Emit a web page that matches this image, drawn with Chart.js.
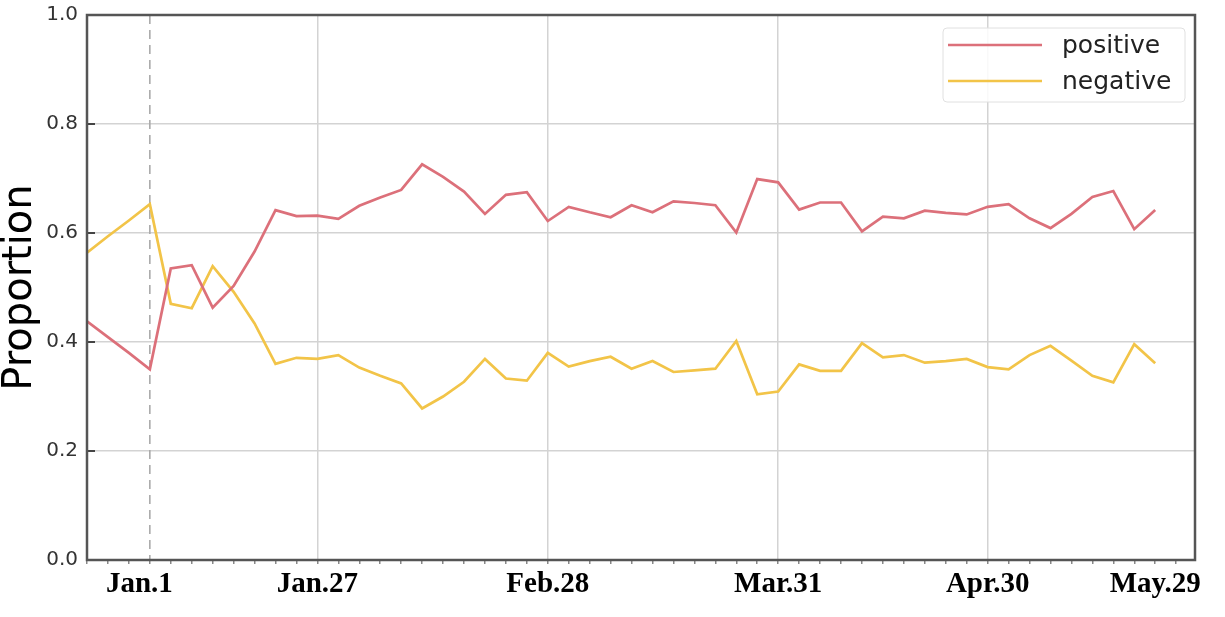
<!DOCTYPE html>
<html>
<head>
<meta charset="utf-8">
<script src="https://cdn.jsdelivr.net/npm/chart.js@4/dist/chart.umd.min.js"></script>
<style>
  html, body { margin: 0; padding: 0; background: #fff; }
  #wrap { width: 1225px; height: 617px; }
</style>
</head>
<body>
<div id="wrap"><canvas id="c" width="1225" height="617"></canvas></div>
<script>
// ---- data ----
const seriesNames = ['positive', 'negative'];
const positive = [0.438, 0.409, 0.380, 0.350, 0.535, 0.541, 0.463, 0.503, 0.566, 0.642,
  0.631, 0.632, 0.626, 0.650, 0.665, 0.679, 0.726, 0.703, 0.676, 0.635,
  0.670, 0.675, 0.622, 0.648, 0.638, 0.629, 0.651, 0.638, 0.658, 0.655,
  0.651, 0.601, 0.699, 0.693, 0.643, 0.656, 0.656, 0.603, 0.630, 0.627,
  0.641, 0.637, 0.634, 0.648, 0.653, 0.627, 0.609, 0.635, 0.666, 0.677,
  0.607, 0.642];
const negative = [0.564, 0.594, 0.623, 0.653, 0.470, 0.462, 0.539, 0.492, 0.434, 0.360,
  0.371, 0.369, 0.376, 0.353, 0.338, 0.324, 0.278, 0.300, 0.327, 0.369,
  0.333, 0.329, 0.380, 0.355, 0.365, 0.373, 0.351, 0.365, 0.345, 0.348,
  0.351, 0.402, 0.304, 0.309, 0.359, 0.347, 0.347, 0.398, 0.372, 0.376,
  0.362, 0.365, 0.369, 0.354, 0.350, 0.376, 0.393, 0.366, 0.338, 0.326,
  0.396, 0.361];
const tickLabels = ['Jan.1', 'Jan.27', 'Feb.28', 'Mar.31', 'Apr.30', 'May.29'];
const tickLabelPos = [2.5, 11, 22, 33, 43, 51];     // where each label sits (sample index)
const gridAt = [11, 22, 33, 43];                     // solid vertical grid lines
const dashedAt = 3;                                  // Jan.1 marker
const yTicks = [0, 0.2, 0.4, 0.6, 0.8, 1.0];

const colors = { positive: 'rgb(220,112,122)', negative: 'rgb(242,196,72)' };

const toXY = arr => arr.map((v, i) => ({ x: i, y: v }));

const xTickValues = [];
for (let i = 0; i <= 52; i++) xTickValues.push(i);
tickLabelPos.forEach(p => { if (!xTickValues.includes(p)) xTickValues.push(p); });
xTickValues.sort((a, b) => a - b);

const deco = {
  id: 'deco',
  beforeDatasetsDraw(chart) {
    const { ctx, chartArea: a, scales: { x } } = chart;
    const px = x.getPixelForValue(dashedAt);
    ctx.save();
    ctx.strokeStyle = '#aaaaaa';
    ctx.lineWidth = 1.6;
    ctx.setLineDash([9, 6]);
    ctx.beginPath();
    ctx.moveTo(px, a.top);
    ctx.lineTo(px, a.bottom);
    ctx.stroke();
    ctx.restore();
  },
  afterDatasetsDraw(chart) {
    const { ctx, chartArea: a, scales: { y } } = chart;
    ctx.save();
    ctx.strokeStyle = '#444';
    ctx.lineWidth = 2;
    yTicks.forEach(v => {
      const py = y.getPixelForValue(v);
      ctx.beginPath();
      ctx.moveTo(a.left, py);
      ctx.lineTo(a.left + 8, py);
      ctx.stroke();
    });
    ctx.strokeStyle = '#555';
    ctx.lineWidth = 2.5;
    ctx.strokeRect(a.left, a.top, a.right - a.left, a.bottom - a.top);
    ctx.restore();
  },
  afterDraw(chart) {
    const { ctx, chartArea: a } = chart;
    const bx = a.right - 252, by = a.top + 13, bw = 242, bh = 74;
    ctx.save();
    ctx.fillStyle = 'rgba(255,255,255,0.85)';
    ctx.strokeStyle = '#e0e0e0';
    ctx.lineWidth = 1;
    ctx.beginPath();
    if (ctx.roundRect) ctx.roundRect(bx, by, bw, bh, 4); else ctx.rect(bx, by, bw, bh);
    ctx.fill();
    ctx.stroke();
    ctx.font = '25px "DejaVu Sans"';
    ctx.textBaseline = 'middle';
    ctx.textAlign = 'left';
    seriesNames.forEach((name, i) => {
      const ly = by + 17 + i * 36;
      ctx.strokeStyle = colors[name];
      ctx.lineWidth = 2.5;
      ctx.beginPath();
      ctx.moveTo(bx + 5, ly);
      ctx.lineTo(bx + 99, ly);
      ctx.stroke();
      ctx.fillStyle = '#222';
      ctx.fillText(name, bx + 119, ly + 1);
    });
    ctx.restore();
  }
};

Chart.defaults.font.family = '"DejaVu Sans", sans-serif';

new Chart(document.getElementById('c'), {
  type: 'line',
  data: {
    datasets: [
      { label: seriesNames[0], data: toXY(positive), borderColor: colors.positive,
        borderWidth: 2.7, pointRadius: 0, tension: 0, fill: false },
      { label: seriesNames[1], data: toXY(negative), borderColor: colors.negative,
        borderWidth: 2.7, pointRadius: 0, tension: 0, fill: false }
    ]
  },
  options: {
    responsive: false,
    animation: false,
    layout: { padding: { top: 15, right: 30, left: 0, bottom: 0 } },
    plugins: { legend: { display: false }, tooltip: { enabled: false } },
    scales: {
      x: {
        type: 'linear',
        min: 0,
        max: 52.9,
        afterBuildTicks(scale) { scale.ticks = xTickValues.map(v => ({ value: v })); },
        afterFit(scale) { scale.height = 57; scale.paddingLeft = 0; scale.paddingRight = 0; },
        border: { display: false },
        grid: {
          color: ctx => gridAt.includes(ctx.tick && ctx.tick.value) ? '#d3d3d3' : 'rgba(0,0,0,0)',
          tickColor: ctx => (ctx.tick && Number.isInteger(ctx.tick.value)) ? '#888' : 'rgba(0,0,0,0)',
          lineWidth: 1.5,
          tickLength: 4
        },
        ticks: {
          autoSkip: false,
          maxRotation: 0,
          minRotation: 0,
          padding: 3,
          color: '#000',
          font: { family: '"Liberation Serif", "Times New Roman", serif', size: 29, weight: 'bold' },
          callback: v => {
            const k = tickLabelPos.indexOf(v);
            return k >= 0 ? tickLabels[k] : '';
          }
        }
      },
      y: {
        min: 0,
        max: 1,
        afterBuildTicks(scale) { scale.ticks = yTicks.map(v => ({ value: v })); },
        afterFit(scale) { scale.width = 87; scale.paddingTop = 0; scale.paddingBottom = 0; },
        border: { display: false },
        grid: { color: '#d3d3d3', lineWidth: 1.5, drawTicks: false },
        ticks: {
          padding: 9,
          color: '#333',
          font: { size: 20 },
          callback: v => v.toFixed(1)
        },
        title: {
          display: true,
          text: 'Proportion',
          color: '#000',
          font: { size: 40, lineHeight: 1.0 },
          padding: { top: 1, bottom: 0 }
        }
      }
    }
  },
  plugins: [deco]
});
</script>
</body>
</html>
